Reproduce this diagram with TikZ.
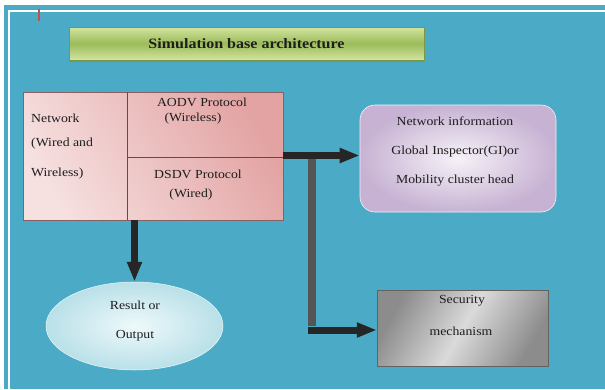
\documentclass[tikz,border=0pt]{standalone}
\usepackage{fontspec}
\setmainfont{Liberation Serif}[FakeStretch=1.12]
\usetikzlibrary{arrows.meta,shadows,shapes.geometric}
\definecolor{bgblue}{HTML}{4BAAC6}
\definecolor{txt}{HTML}{1E1E1E}
\definecolor{pinkA}{HTML}{F6E0E0}
\definecolor{pinkB}{HTML}{E3A3A3}
\definecolor{lavA}{HTML}{F6F2F7}
\definecolor{lavB}{HTML}{C7B2D3}
\definecolor{greyA}{HTML}{DADADA}
\definecolor{greyB}{HTML}{8C8C8C}
\definecolor{cyanA}{HTML}{EEF9FB}
\definecolor{cyanB}{HTML}{B9E0E8}
\definecolor{greenA}{HTML}{D3E4A0}
\definecolor{greenB}{HTML}{9BBB59}
\definecolor{arrdark}{HTML}{262626}
\definecolor{arrgrey}{HTML}{555555}
\definecolor{tickred}{HTML}{C0504D}
\tikzset{
  x=1pt, y=-1pt,
  lbl/.style={font=\fontsize{12.3}{14}\selectfont, text=txt, inner sep=0pt},
  lblL/.style={lbl, anchor=west},
  titlebox/.style={minimum width=355pt, minimum height=33pt, inner sep=0pt,
    top color=greenA, bottom color=greenA, middle color=greenB,
    draw=greenB!80!black, line width=0.3pt,
    drop shadow={shadow xshift=0pt, shadow yshift=-1.5pt, opacity=0.6}},
  netbox/.style={minimum width=260pt, minimum height=128pt, inner sep=0pt,
    draw=pinkB!60!black, line width=0.4pt,
    shading=axis, left color=pinkA, right color=pinkB, shading angle=120},
  infobox/.style={minimum width=196pt, minimum height=107pt, inner sep=0pt,
    rounded corners=15pt, draw=lavA, line width=0.6pt,
    inner color=lavA, outer color=lavB},
  secbox/.style={minimum width=171pt, minimum height=76pt, inner sep=0pt,
    draw=greyB!70!black, line width=0.4pt,
    shading=axis, left color=greyB, right color=greyB, middle color=greyA, shading angle=60},
  resell/.style={ellipse, minimum width=177pt, minimum height=88pt, inner sep=0pt,
    draw=cyanA, line width=0.5pt, inner color=cyanA, outer color=cyanB},
  bigarrow/.style={draw=arrdark, line width=7pt,
    -{Triangle[length=20pt,width=14pt]}},
  bigbar/.style={draw=arrgrey, line width=8pt},
}
\begin{document}
\begin{tikzpicture}
\useasboundingbox (0,0) rectangle (605,389);
% background
\fill[white] (0,0) rectangle (605,389);
\fill[bgblue] (4,5) rectangle (605,389);
\draw[white, line width=1.3pt] (9,389) -- (9,11) -- (605,11);
\draw[tickred, line width=1.3pt] (39,9) -- (39,21);

% title
\node[titlebox] (title) at (246.5,43.5)
  {\fontsize{14.3}{16}\selectfont\bfseries\color{txt}Simulation base architecture};

% network box
\node[netbox] (net) at (153,156) {};
\draw[pinkB!45!black, line width=0.4pt] (127,92) -- (127,220);
\draw[pinkB!45!black, line width=0.4pt] (127,157) -- (net.east |- 0,157);
\node[lblL] (n1) at (31,118) {Network};
\node[lblL] (n2) at (31,144) {(Wired and};
\node[lblL] (n3) at (31,174) {Wireless)};
\node[lbl] (a1) at (202,102) {AODV Protocol};
\node[lbl] (a2) at (193,119) {(Wireless)};
\node[lbl] (d1) at (198,174) {DSDV Protocol};
\node[lbl] (d2) at (191,195) {(Wired)};

% info box
\node[infobox] (info) at (458,158.5) {};
\node[lbl] (i1) at (455,121) {Network information};
\node[lbl] (i2) at (455,152) {Global Inspector(GI)or};
\node[lbl] (i3) at (455,181) {Mobility cluster head};

% security box
\node[secbox] (sec) at (462.5,328) {};
\node[lbl] (s1) at (462,301) {Security};
\node[lbl] (s2) at (461,331) {mechanism};

% result ellipse
\node[resell] (res) at (134.5,326) {};
\node[lbl] (r1) at (135,305) {Result or};
\node[lbl] (r2) at (135,336) {Output};

% connectors
\coordinate (j) at (312,155.5);
\coordinate (k) at (312,330);
\draw[bigbar] (j) -- ([yshift=4pt]k);
\draw[bigarrow] (net.east |- j) -- (info.west |- j);
\draw[bigarrow] ([xshift=-4pt]k) -- (sec.west |- k);
\draw[bigarrow] (res.north |- net.south) -- (res.north);
\end{tikzpicture}
\end{document}
